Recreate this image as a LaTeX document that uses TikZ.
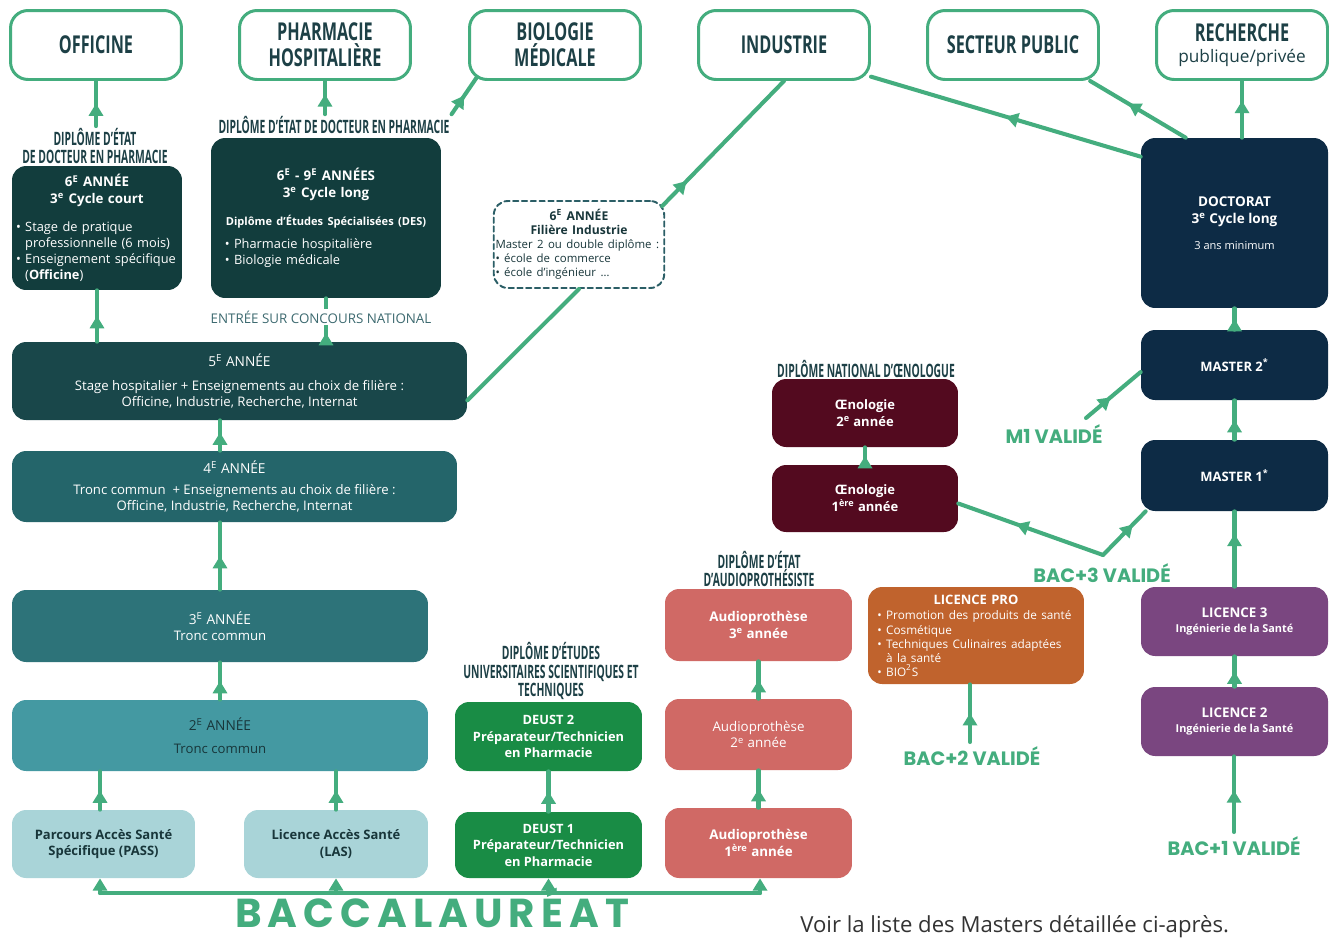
\documentclass[tikz,border=0pt]{standalone}
\usepackage{fontspec}
\setmainfont{Open Sans}
\newfontfamily\goalfont[FakeStretch=0.66]{Open Sans}
\newfontfamily\headfont[FakeStretch=0.56]{Open Sans}
\newfontfamily\popfont{Poppins}
\newfontfamily\bacfont[LetterSpace=15]{Poppins}
\usetikzlibrary{arrows.meta,decorations.markings,calc}
\definecolor{lgreen}{HTML}{44AD7E}
\definecolor{headcol}{HTML}{1D4046}
\definecolor{y6col}{HTML}{123D3D}
\definecolor{y5col}{HTML}{19474A}
\definecolor{y4col}{HTML}{24656A}
\definecolor{y3col}{HTML}{2D7379}
\definecolor{y2col}{HTML}{4499A2}
\definecolor{passcol}{HTML}{A9D4D8}
\definecolor{darktxt}{HTML}{18363A}
\definecolor{deustcol}{HTML}{198C45}
\definecolor{audiocol}{HTML}{D06965}
\definecolor{oenocol}{HTML}{530A1F}
\definecolor{lprocol}{HTML}{C0632D}
\definecolor{liccol}{HTML}{7A4680}
\definecolor{navycol}{HTML}{0D2B45}
\definecolor{dashcol}{HTML}{2B5E66}
\definecolor{concol}{HTML}{3D6A70}
\tikzset{
	goal/.style={draw=lgreen, line width=1.7pt, fill=white, rounded corners=10pt, minimum width=3.42cm, minimum height=1.38cm, align=center, text=headcol, font=\goalfont\bfseries\fontsize{14}{15}\selectfont},
	head/.style={text=headcol, align=center, inner sep=1pt, font=\headfont\bfseries\fontsize{10.5}{10.4}\selectfont},
	yearbox/.style={rounded corners=8pt, align=center, inner sep=2pt, text=white, font=\fontsize{7.5}{9}\selectfont},
	valid/.style={text=lgreen, inner sep=1pt, font=\popfont\bfseries\fontsize{11}{12}\selectfont},
	flow/.style={color=lgreen, draw, line width=2.3pt, postaction={decorate}, decoration={markings, mark=at position #1 with {\arrow{Triangle[width=8pt,length=7pt]}}}},
	flow/.default=.5,
	bacarrow/.style={draw=lgreen, line width=2.3pt, -{Triangle[width=8pt,length=7pt]}},
}
\begin{document}
\begin{tikzpicture}[x=0.02cm, y=-0.02cm, line join=round, line cap=round]
	\useasboundingbox[fill=white] (0,0) rectangle (1331,940);
	% debouches
	\node[goal] (off) at (96,45) {OFFICINE};
	\node[goal] (ph) at (325,45) {PHARMACIE\\HOSPITALIÈRE};
	\node[goal] (bio) at (555,45) {BIOLOGIE\\MÉDICALE};
	\node[goal] (ind) at (784,45) {INDUSTRIE};
	\node[goal] (sp) at (1013,45) {SECTEUR PUBLIC};
	\node[goal] (rech) at (1242,45) {RECHERCHE\\[-3pt]{\normalfont\fontsize{9.8}{11}\selectfont publique/privée}};
	% titres
	\node[head] (hdoff) at (95,146) {DIPLÔME D’ÉTAT\\DE DOCTEUR EN PHARMACIE};
	\node[head] (hdph) at (334,125) {DIPLÔME D’ÉTAT DE DOCTEUR EN PHARMACIE};
	\node[head] (hdoeno) at (866,369) {DIPLÔME NATIONAL D’ŒNOLOGUE};
	\node[head] (hdaudio) at (759,569) {DIPLÔME D’ÉTAT\\D’AUDIOPROTHÉSISTE};
	\node[head] (hddeust) at (551,671) {DIPLÔME D’ÉTUDES\\UNIVERSITAIRES SCIENTIFIQUES ET\\TECHNIQUES};
	% pharmacie
	\node[yearbox, fill=y6col, minimum width=3.4cm, minimum height=2.48cm, text width=3.24cm] (y6) at (97,228)
		{{\centering\bfseries\fontsize{7.6}{9.6}\selectfont 6\textsuperscript{E} ANNÉE\\ 3\textsuperscript{e} Cycle court\par}\vspace{7pt}
		{\raggedright\fontsize{7.3}{9}\selectfont • Stage de pratique\\ \phantom{• }professionnelle (6 mois)\\ • Enseignement spécifique\\ \phantom{• }(\textbf{Officine})\par}};
	\node[yearbox, fill=y6col, minimum width=4.6cm, minimum height=3.2cm, text width=4.4cm] (y69) at (326,218)
		{{\centering\bfseries\fontsize{7.6}{9.6}\selectfont 6\textsuperscript{E} - 9\textsuperscript{E} ANNÉES\\ 3\textsuperscript{e} Cycle long\par}\vspace{8pt}
		{\centering\bfseries\fontsize{6.3}{8}\selectfont Diplôme d’Études Spécialisées (DES)\par}\vspace{4pt}
		{\raggedright\leftskip=5pt\fontsize{7.3}{9}\selectfont • Pharmacie hospitalière\\ • Biologie médicale\par}};
	\node[yearbox, fill=y5col, minimum width=9.1cm, minimum height=1.56cm] (y5) at (239.5,381)
		{{\fontsize{7.8}{9}\selectfont 5\textsuperscript{E} ANNÉE}\\[5pt] Stage hospitalier + Enseignements au choix de filière :\\ Officine, Industrie, Recherche, Internat};
	\node[yearbox, fill=y4col, minimum width=8.9cm, minimum height=1.42cm] (y4) at (234.5,486.5)
		{{\fontsize{7.8}{9}\selectfont 4\textsuperscript{E} ANNÉE}\\[3pt] Tronc commun\ \ + Enseignements au choix de filière :\\ Officine, Industrie, Recherche, Internat};
	\node[yearbox, fill=y3col, minimum width=8.32cm, minimum height=1.44cm] (y3) at (220,626)
		{{\fontsize{7.8}{9}\selectfont 3\textsuperscript{E} ANNÉE}\\ Tronc commun};
	\node[yearbox, fill=y2col, text=darktxt, minimum width=8.32cm, minimum height=1.42cm] (y2) at (220,735.5)
		{{\fontsize{7.8}{9}\selectfont 2\textsuperscript{E} ANNÉE}\\[4pt] Tronc commun};
	\node[yearbox, fill=passcol, text=darktxt, minimum width=3.66cm, minimum height=1.36cm, font=\bfseries\fontsize{7.4}{9.4}\selectfont] (pass) at (103.5,844)
		{Parcours Accès Santé\\Spécifique (PASS)};
	\node[yearbox, fill=passcol, text=darktxt, minimum width=3.68cm, minimum height=1.36cm, font=\bfseries\fontsize{7.4}{9.4}\selectfont] (las) at (336,844)
		{Licence Accès Santé\\(LAS)};
	% industrie
	\node[yearbox, draw=dashcol, line width=1.1pt, dash pattern=on 3pt off 2pt, fill=white, text=darktxt, inner sep=1pt, minimum width=3.4cm, minimum height=1.74cm, text width=3.34cm] (ind6) at (579,244.5)
		{{\centering\bfseries\fontsize{6.9}{8}\selectfont 6\textsuperscript{E} ANNÉE\\ Filière Industrie\par}
		{\raggedright\fontsize{6.5}{8}\selectfont Master 2 ou double diplôme :\\ • école de commerce\\ • école d’ingénieur …\par}};
	% deust
	\node[yearbox, fill=deustcol, minimum width=3.74cm, minimum height=1.38cm, font=\bfseries\fontsize{7.3}{9.4}\selectfont] (d2) at (548.5,736.5)
		{DEUST 2\\Préparateur/Technicien\\en Pharmacie};
	\node[yearbox, fill=deustcol, minimum width=3.74cm, minimum height=1.32cm, font=\bfseries\fontsize{7.3}{9.4}\selectfont] (d1) at (548.5,845)
		{DEUST 1\\Préparateur/Technicien\\en Pharmacie};
	% audioprothese
	\node[yearbox, fill=audiocol, minimum width=3.74cm, minimum height=1.44cm, font=\bfseries\fontsize{7.6}{9.6}\selectfont] (a3) at (758.5,625)
		{Audioprothèse\\3\textsuperscript{e} année};
	\node[yearbox, fill=audiocol, minimum width=3.74cm, minimum height=1.42cm, font=\fontsize{7.6}{9.6}\selectfont] (a2) at (758.5,734.5)
		{Audioprothèse\\2\textsuperscript{e} année};
	\node[yearbox, fill=audiocol, minimum width=3.74cm, minimum height=1.4cm, font=\bfseries\fontsize{7.6}{9.6}\selectfont] (a1) at (758.5,843)
		{Audioprothèse\\1\textsuperscript{ère} année};
	% oenologie
	\node[yearbox, fill=oenocol, minimum width=3.72cm, minimum height=1.36cm, font=\bfseries\fontsize{7.4}{9.6}\selectfont] (oe2) at (865,413)
		{Œnologie\\2\textsuperscript{e} année};
	\node[yearbox, fill=oenocol, minimum width=3.72cm, minimum height=1.34cm, font=\bfseries\fontsize{7.4}{9.6}\selectfont] (oe1) at (865,498.5)
		{Œnologie\\1\textsuperscript{ère} année};
	% licences
	\node[yearbox, fill=lprocol, minimum width=4.32cm, minimum height=1.94cm, text width=4.16cm] (lpro) at (976,635.5)
		{{\centering\bfseries\fontsize{7.4}{9}\selectfont LICENCE PRO\par}\vspace{1pt}
		{\raggedright\leftskip=3pt\fontsize{6.7}{8}\selectfont • Promotion des produits de santé\\ • Cosmétique\\ • Techniques Culinaires adaptées\\ \phantom{• }à la santé\\ • BIO\textsuperscript{2}S\par}};
	\node[yearbox, fill=liccol, minimum width=3.74cm, minimum height=1.38cm, font=\bfseries\fontsize{7.6}{8.6}\selectfont] (l3) at (1234.5,621.5)
		{LICENCE 3\\{\fontsize{6.2}{8}\selectfont Ingénierie de la Santé}};
	\node[yearbox, fill=liccol, minimum width=3.74cm, minimum height=1.38cm, font=\bfseries\fontsize{7.6}{8.6}\selectfont] (l2) at (1234.5,721.5)
		{LICENCE 2\\{\fontsize{6.2}{8}\selectfont Ingénierie de la Santé}};
	% masters
	\node[yearbox, fill=navycol, minimum width=3.74cm, minimum height=1.42cm, font=\bfseries\fontsize{7.4}{9}\selectfont] (m1) at (1234.5,475.5) {MASTER 1\textsuperscript{*}};
	\node[yearbox, fill=navycol, minimum width=3.74cm, minimum height=1.4cm, font=\bfseries\fontsize{7.4}{9}\selectfont] (m2) at (1234.5,365) {MASTER 2\textsuperscript{*}};
	\node[yearbox, fill=navycol, minimum width=3.74cm, minimum height=3.4cm, font=\bfseries\fontsize{7.7}{9.6}\selectfont] (doc) at (1234.5,223)
		{DOCTORAT\\3\textsuperscript{e} Cycle long\\[5pt]{\mdseries\fontsize{6.3}{8}\selectfont 3 ans minimum}};
	% mentions
	\node[valid] (m1lab) at (1054,434) {M1 VALIDÉ};
	\node[valid] (b3lab) at (1102,573) {BAC+3 VALIDÉ};
	\node[valid] (b2lab) at (972,756) {BAC+2 VALIDÉ};
	\node[valid] (b1lab) at (1234,846) {BAC+1 VALIDÉ};
	\coordinate (m1v) at (1086,418);
	\coordinate (b3) at (1103,555);
	\coordinate (b2) at (970,742);
	\coordinate (b1) at (1234,832);
	\coordinate (bacl) at (100,893);
	\coordinate (bacr) at (760,893);
	% fleches
	\draw[flow] (off.south |- hdoff.north) -- (off.south);
	\draw[flow=.6] (ph.south |- hdph.north) -- (ph.south);
	\draw[flow] (hdph.north east) -- ($(bio.south west)+(9,-4)$);
	\draw[flow] (y6.south |- y5.north) -- (y6.south);
	\draw[flow=.2] (y69.south |- y5.north) -- (y69.south);
	\node[fill=white, text=concol, inner sep=1pt, font=\fontsize{7.6}{9}\selectfont] (concours) at (321,317) {ENTRÉE SUR CONCOURS NATIONAL};
	\draw[flow=.6] (y3.north |- y4.north) -- (y3.north |- y5.south);
	\draw[flow] (y3.north) -- (y3.north |- y4.south);
	\draw[flow] (y2.north) -- (y3.south);
	\draw[flow] (pass.north -| bacl) -- (bacl |- y2.south);
	\draw[flow] (las.north) -- (las.north |- y2.south);
	\draw[color=lgreen, line width=2.3pt] ($(y5.south east)+(0,-20)$) -- (ind6.south);
	\draw[flow=.2] ($(ind6.north east)+(-3,6)$) -- (ind.south);
	\draw[flow] (d1.north) -- (d2.south);
	\draw[flow] (a1.north) -- (a2.south);
	\draw[flow] (a2.north) -- (a3.south);
	\draw[flow] (oe1.north) -- (oe2.south);
	\draw[flow] (b2) -- (b2 |- lpro.south);
	\draw[flow=.55] (b1) -- (b1 |- l2.south);
	\draw[flow] (l2.north) -- (l3.south);
	\draw[flow=.7] (l3.north) -- (m1.south);
	\draw[flow=.6] (b3) -- ($(oe1.east)+(0,5)$);
	\draw[flow=.7] (b3) -- ($(m1.south west)+(5,0)$);
	\draw[flow=.45] (m1v) -- ($(m2.west)+(0,7)$);
	\draw[flow] (m1.north) -- (m2.south);
	\draw[flow] (m2.north) -- (doc.south);
	\draw[flow=.65] (rech.south |- doc.north) -- (rech.south);
	\draw[flow=.6] ($(doc.north west)+(45,0)$) -- (sp.-25);
	\draw[flow] ($(doc.north west)+(0,19)$) -- (ind.-20);
	% baccalaureat
	\draw[color=lgreen, line width=2.3pt] (bacl) -- (bacr);
	\draw[bacarrow] (bacl) -- (bacl |- pass.south);
	\draw[bacarrow] (las.south |- bacl) -- (las.south);
	\draw[bacarrow] (d1.south |- bacl) -- (d1.south);
	\draw[bacarrow] (bacr) -- (bacr |- a1.south);
	\node[text=lgreen, inner sep=0pt, font=\bacfont\bfseries\fontsize{23}{24}\selectfont] (bac) at (432,908) {BACCALAURÉAT};
	\node[anchor=west, text=black!80, inner sep=0pt, font=\fontsize{12.6}{14}\selectfont] (note) at (800,927) {Voir la liste des Masters détaillée ci-après.};
\end{tikzpicture}
\end{document}
